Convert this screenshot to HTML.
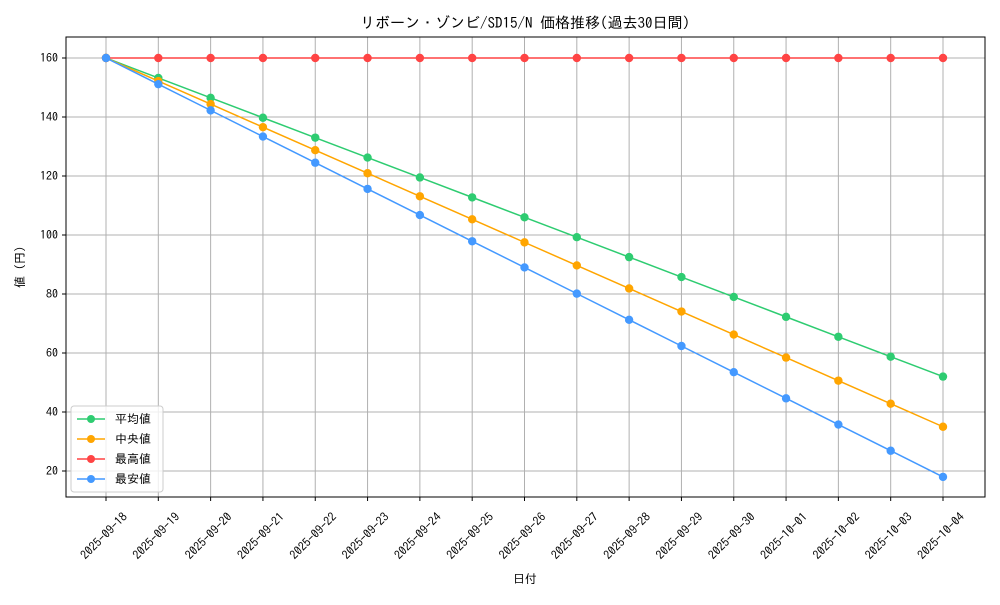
<!DOCTYPE html>
<html><head><meta charset="utf-8"><style>
body{margin:0;background:#fff;}
svg text{font-family:"IPAGothic","Noto Sans CJK JP",monospace;fill:#000;}
</style></head><body>
<svg width="1000" height="600" xmlns="http://www.w3.org/2000/svg" id="s">
<rect x="0" y="0" width="1000" height="600" fill="#fff"/>
<text x="525" y="28" font-size="15" text-anchor="middle">リボーン・ゾンビ/SD15/N 価格推移(過去30日間)</text>
<g id="grid"></g>
<rect x="66" y="37" width="919" height="460" fill="none" stroke="#000" stroke-width="1"/>
<g id="series"></g>
<text x="525" y="583" font-size="12" text-anchor="middle">日付</text>
<text transform="translate(24,267) rotate(-90)" font-size="12" text-anchor="middle">値 (円)</text>
<g>
<rect x="71" y="406" width="92" height="86" fill="#fff" fill-opacity="0.8" stroke="#ccc" rx="3"/>
<line x1="77" y1="419" x2="105" y2="419" stroke="#2ecc71" stroke-width="1.5"/><circle cx="91" cy="419" r="4" fill="#2ecc71"/><text x="115" y="423" font-size="12">平均値</text>
<line x1="77" y1="439" x2="105" y2="439" stroke="#ffa500" stroke-width="1.5"/><circle cx="91" cy="439" r="4" fill="#ffa500"/><text x="115" y="443" font-size="12">中央値</text>
<line x1="77" y1="459" x2="105" y2="459" stroke="#ff4444" stroke-width="1.5"/><circle cx="91" cy="459" r="4" fill="#ff4444"/><text x="115" y="463" font-size="12">最高値</text>
<line x1="77" y1="479" x2="105" y2="479" stroke="#4499ff" stroke-width="1.5"/><circle cx="91" cy="479" r="4" fill="#4499ff"/><text x="115" y="483" font-size="12">最安値</text>
</g>
</svg>
<script>
const NS="http://www.w3.org/2000/svg",g=document.getElementById('grid'),sr=document.getElementById('series');
function el(p,t,a,txt){const e=document.createElementNS(NS,t);for(const k in a)e.setAttribute(k,a[k]);if(txt)e.textContent=txt;p.appendChild(e);return e;}
const X=i=>106+i*52.3125,Y=v=>471-(v-20)*2.95;
const dates=["2025-09-18","2025-09-19","2025-09-20","2025-09-21","2025-09-22","2025-09-23","2025-09-24","2025-09-25","2025-09-26","2025-09-27","2025-09-28","2025-09-29","2025-09-30","2025-10-01","2025-10-02","2025-10-03","2025-10-04"];
for(let v=20;v<=160;v+=20){const y=Y(v);el(g,'line',{x1:66,x2:985,y1:y,y2:y,stroke:'#b0b0b0','stroke-width':1});el(g,'line',{x1:62,x2:66,y1:y,y2:y,stroke:'#000'});el(g,'text',{x:58,y:y+4,'font-size':12,'text-anchor':'end'},v);}
dates.forEach((d,i)=>{const x=X(i);el(g,'line',{x1:x,x2:x,y1:37,y2:497,stroke:'#b0b0b0','stroke-width':1});el(g,'line',{x1:x,x2:x,y1:497,y2:501,stroke:'#000'});el(g,'text',{'font-size':12,'text-anchor':'middle',transform:`translate(${x-2},${536}) rotate(-45)`,dy:4},d);});
const ser=[["#2ecc71",6.75],["#ffa500",7.8125],["#ff4444",0],["#4499ff",8.875]];
ser.forEach(([c,s])=>{const pts=dates.map((d,i)=>[X(i),Y(160-s*i)]);el(sr,'polyline',{points:pts.map(p=>p.join(',')).join(' '),fill:'none',stroke:c,'stroke-width':1.5});pts.forEach(p=>el(sr,'circle',{cx:p[0],cy:p[1],r:4.2,fill:c}));});
</script>
</body></html>
